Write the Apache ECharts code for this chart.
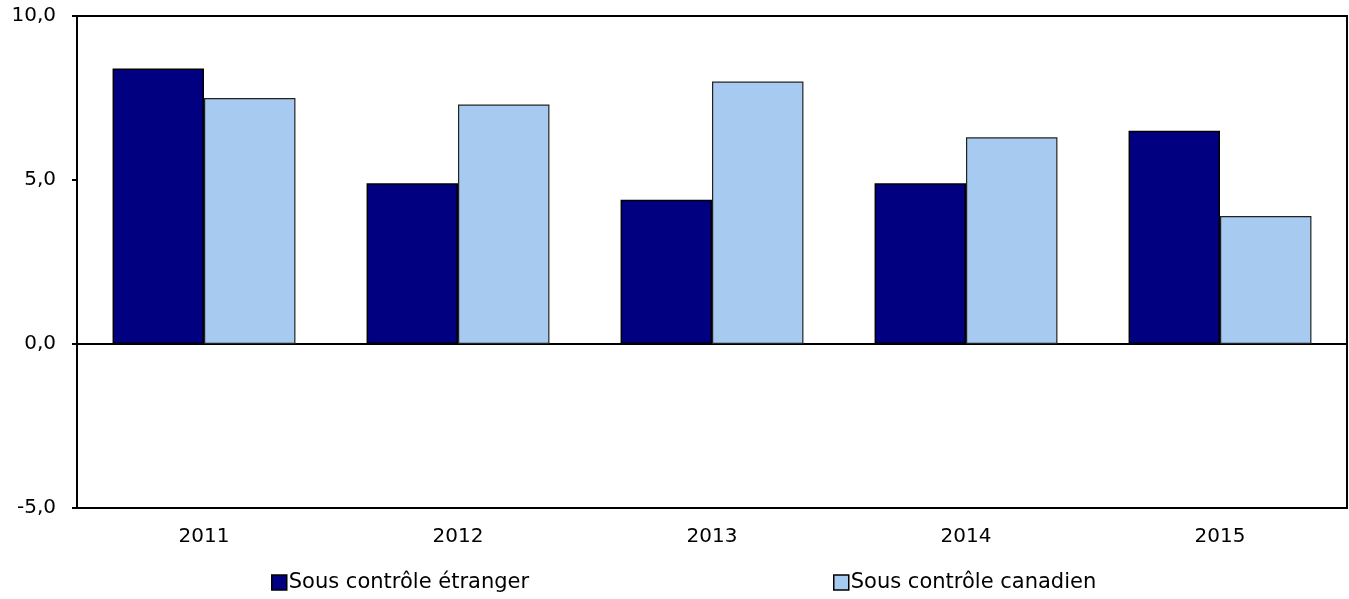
<!DOCTYPE html>
<html><head><meta charset="utf-8">
<script src="https://cdn.jsdelivr.net/npm/echarts@6/dist/echarts.min.js"></script>
<style>html,body{margin:0;padding:0;background:#fff}#c{width:1349px;height:599px}</style>
</head><body><div id="c"></div>
<script>
var categories = ['2011','2012','2013','2014','2015'];
var foreignVals = [8.4, 4.9, 4.4, 4.9, 6.5];
var canadianVals = [7.5, 7.3, 8.0, 6.3, 3.9];
var seriesNames = ['Sous contrôle étranger', 'Sous contrôle canadien'];
var font = '"DejaVu Sans", Verdana, sans-serif';
var chart = echarts.init(document.getElementById('c'), null, {renderer:'canvas'});
chart.setOption({
  animation: false,
  grid: {left: 77, right: 2, top: 16, bottom: 91, show: true, borderColor: '#000', borderWidth: 2, backgroundColor: 'transparent'},
  legend: [
    {data: [seriesNames[0]], left: 271, top: 572, padding: 0, icon: 'rect', itemWidth: 15, itemHeight: 15, itemGap: 4,
     textStyle: {fontFamily: font, fontSize: 21, color: '#000', padding: [0,0,0,-3]},
     itemStyle: {borderColor: '#000', borderWidth: 1.5}},
    {data: [seriesNames[1]], left: 833, top: 572, padding: 0, icon: 'rect', itemWidth: 15, itemHeight: 15, itemGap: 4,
     textStyle: {fontFamily: font, fontSize: 21, color: '#000', padding: [0,0,0,-3]},
     itemStyle: {borderColor: '#000', borderWidth: 1.5}}
  ],
  xAxis: {
    type: 'category', data: categories,
    axisLine: {show: true, onZero: true, lineStyle: {color: '#000', width: 2}},
    axisTick: {show: false},
    axisLabel: {fontFamily: font, fontSize: 20, color: '#000', margin: 19}
  },
  yAxis: {
    type: 'value', min: -5, max: 10, interval: 5,
    splitLine: {show: false},
    axisLine: {show: true, lineStyle: {color: '#000', width: 2}},
    axisTick: {show: true, length: 5, lineStyle: {color: '#000', width: 2}},
    axisLabel: {fontFamily: font, fontSize: 20, color: '#000', margin: 21,
      formatter: function(v){return v.toFixed(1).replace('.', ',');}}
  },
  series: [
    {name: seriesNames[0], type: 'bar', data: foreignVals, barGap: '0%', barCategoryGap: '28%',
     itemStyle: {color: '#000080', borderColor: '#000', borderWidth: 1.5}},
    {name: seriesNames[1], type: 'bar', data: canadianVals, barGap: '0%', barCategoryGap: '28%',
     itemStyle: {color: '#A6CAF0', borderColor: '#222', borderWidth: 1.2}}
  ]
});
</script></body></html>
